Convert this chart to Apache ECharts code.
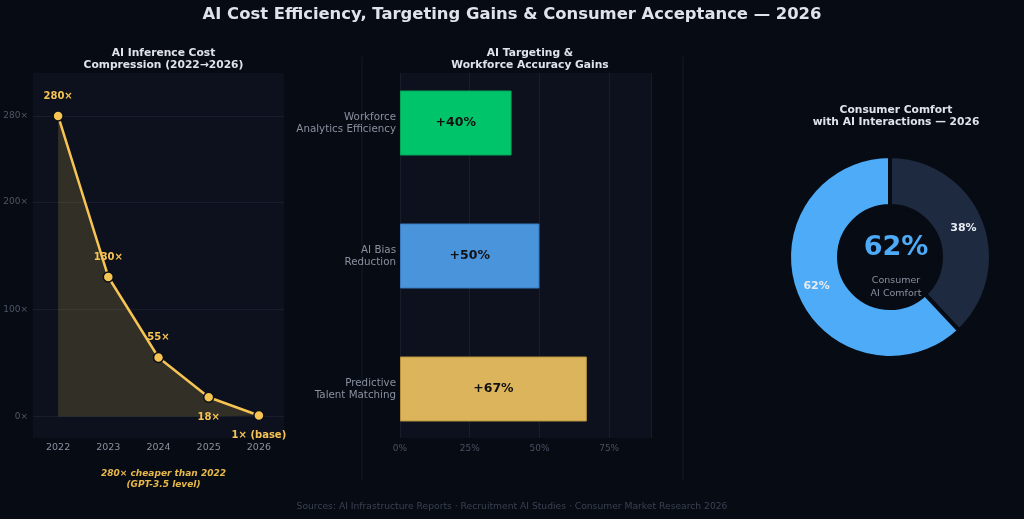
<!DOCTYPE html>
<html><head><meta charset="utf-8">
<script src="https://cdn.jsdelivr.net/npm/echarts@6/dist/echarts.min.js"></script>
<style>html,body{margin:0;padding:0;background:#070b13;}#c{width:1024px;height:519px;}</style>
</head><body><div id="c"></div>
<script>
// ---- data ----
const years = ['2022','2023','2024','2025','2026'];
const costMultiple = [280, 130, 55, 18, 1];
const costLabels = ['280×','130×','55×','18×','1× (base)'];
const costLabelPos = ['top','top','top','bottom','bottom'];
const costTicks = [0, 100, 200, 280];

const gainCats = ['Workforce\nAnalytics Efficiency', 'AI Bias\nReduction', 'Predictive\nTalent Matching'];
const gainValues = [40, 50, 67];
const gainColors = ['#00c46a', '#4a94dc', '#dcb45c'];
const gainBorders = ['#00a85a', '#3a7cc0', '#b8923e'];

const comfortNames = ['Not Comfortable', 'Comfortable'];
const comfortValues = [38, 62];
const comfortColors = ['#1e2a40', '#4dabf7'];

const BG = '#070b13', PLOT = '#0c111d', FONT = 'DejaVu Sans';

const chart = echarts.init(document.getElementById('c'));
chart.setOption({
  backgroundColor: BG,
  textStyle: { fontFamily: FONT },
  animation: false,
  title: [
    { text: 'AI Cost Efficiency, Targeting Gains & Consumer Acceptance — 2026', left: 'center', top: 2,
      textStyle: { color: '#e0e4ea', fontSize: 16.4, fontWeight: 'bold', fontFamily: FONT } },
    { text: 'AI Inference Cost\nCompression (2022→2026)', left: 158.5, textAlign: 'center', top: 42,
      textStyle: { color: '#e0e4ea', fontSize: 10.7, fontWeight: 'bold', lineHeight: 12, fontFamily: FONT } },
    { text: 'AI Targeting &\nWorkforce Accuracy Gains', left: 525, textAlign: 'center', top: 42,
      textStyle: { color: '#e0e4ea', fontSize: 10.7, fontWeight: 'bold', lineHeight: 12, fontFamily: FONT } },
    { text: 'Consumer Comfort\nwith AI Interactions — 2026', left: 891, textAlign: 'center', top: 99,
      textStyle: { color: '#e0e4ea', fontSize: 10.7, fontWeight: 'bold', lineHeight: 12, fontFamily: FONT } },
    { text: costLabels[0].replace(' ', '') + ' cheaper than 2022\n(GPT-3.5 level)', left: 158.5, textAlign: 'center', top: 463,
      textStyle: { color: '#e8b84a', fontSize: 9, fontWeight: 'bold', fontStyle: 'italic', lineHeight: 11, fontFamily: FONT } },
    { text: comfortValues[1] + '%', left: 891, textAlign: 'center', top: 229,
      textStyle: { color: '#4dabf7', fontSize: 27, fontWeight: 'bold', fontFamily: FONT } },
    { text: 'Consumer\nAI Comfort', left: 891, textAlign: 'center', top: 269,
      textStyle: { color: '#8a90a0', fontSize: 9.5, fontWeight: 'normal', lineHeight: 13, fontFamily: FONT } },
    { text: 'Sources: AI Infrastructure Reports · Recruitment AI Studies · Consumer Market Research 2026', left: 'center', top: 497,
      textStyle: { color: '#3a4152', fontSize: 9.2, fontWeight: 'normal', fontFamily: FONT } }
  ],
  graphic: [
    { type: 'line', shape: { x1: 362, y1: 57, x2: 362, y2: 480 }, style: { stroke: '#161b26', lineWidth: 1 }, silent: true },
    { type: 'line', shape: { x1: 683, y1: 57, x2: 683, y2: 480 }, style: { stroke: '#161b26', lineWidth: 1 }, silent: true }
  ],
  grid: [
    { left: 33, width: 251, top: 73, height: 365, show: true, backgroundColor: PLOT, borderWidth: 0 },
    { left: 400, width: 251, top: 56.5, height: 399, show: false },
    { left: 400, width: 251, top: 73, height: 365, show: true, backgroundColor: PLOT, borderWidth: 0 }
  ],
  xAxis: [
    { gridIndex: 0, type: 'category', data: years, boundaryGap: true,
      axisLine: { show: false }, axisTick: { show: false },
      axisLabel: { color: '#8a90a0', fontSize: 9.5, margin: 5 } },
    { gridIndex: 1, type: 'value', min: 0, max: 90, show: false },
    { gridIndex: 2, type: 'value', min: 0, max: 90, interval: 25,
      axisLine: { show: false }, axisTick: { show: false },
      axisLabel: { color: '#4a5162', fontSize: 9, margin: 6, formatter: '{value}%', showMaxLabel: false },
      splitLine: { show: true, lineStyle: { color: '#171d2a', width: 1 } } }
  ],
  yAxis: [
    { gridIndex: 0, type: 'value', min: -20, max: 320,
      axisLine: { show: false },
      axisTick: { show: false, customValues: costTicks },
      axisLabel: { color: '#4f5667', fontSize: 9, margin: 5, formatter: '{value}×', customValues: costTicks },
      splitLine: { show: true, lineStyle: { color: '#171d2a', width: 1 } } },
    { gridIndex: 1, type: 'category', data: gainCats, inverse: true,
      axisLine: { show: false }, axisTick: { show: false },
      axisLabel: { color: '#8a90a0', fontSize: 10.3, lineHeight: 12, margin: 4, align: 'right' } },
    { gridIndex: 2, type: 'value', min: 0, max: 1, show: false }
  ],
  series: [
    { type: 'line', xAxisIndex: 0, yAxisIndex: 0,
      data: costMultiple.map((v, i) => ({ value: v, label: { position: costLabelPos[i], formatter: costLabels[i] } })),
      lineStyle: { color: '#f6c453', width: 2.5 },
      itemStyle: { color: '#f6c453', borderColor: '#0b0f18', borderWidth: 1.5 },
      symbol: 'circle', symbolSize: 10,
      areaStyle: { color: 'rgba(246,196,83,0.24)' },
      label: { show: true, color: '#f6c453', fontSize: 10, fontWeight: 'bold', distance: 9 },
      z: 5 },
    { type: 'bar', xAxisIndex: 1, yAxisIndex: 1, barWidth: 65,
      data: gainValues.map((v, i) => ({ value: v, itemStyle: { color: gainColors[i], borderColor: gainBorders[i], borderWidth: 1 } })),
      label: { show: true, position: 'inside', formatter: p => '+' + p.value + '%', color: '#111111', fontSize: 12.5, fontWeight: 'bold' },
      z: 5 },
    { type: 'pie', center: [890, 257], radius: [51, 101], startAngle: 90, clockwise: true,
      data: comfortValues.map((v, i) => ({ name: comfortNames[i], value: v, itemStyle: { color: comfortColors[i] } })),
      itemStyle: { borderColor: BG, borderWidth: 4 },
      label: { show: true, position: 'inside', formatter: '{d}%', color: '#e8ecf2', fontSize: 11, fontWeight: 'bold' },
      labelLine: { show: false }, silent: true }
  ]
});
</script></body></html>
